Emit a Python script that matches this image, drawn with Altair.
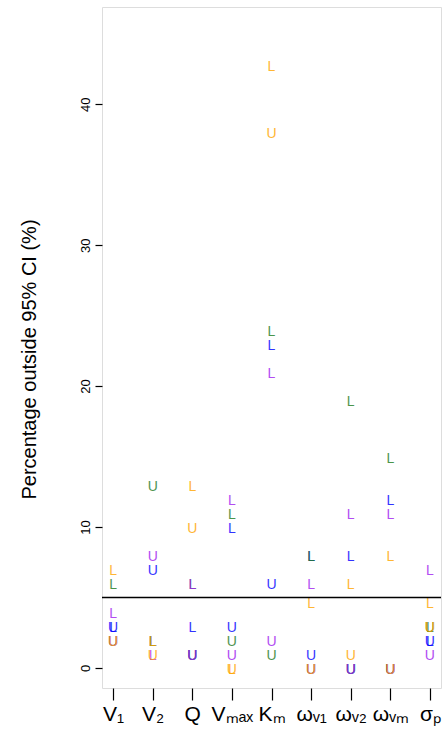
import altair as alt
import pandas as pd

# parameters (x axis) and their tick labels
params = ["V1", "V2", "Q", "Vmax", "Km", "wV1", "wV2", "wVm", "sp"]
tick_labels = ["V₁", "V₂", "Q", "Vₘₐₓ", "Kₘ", "ωᵥ₁", "ωᵥ₂", "ωᵥₘ", "σₚ"]

# percentage outside 95% CI: L = below lower bound, U = above upper bound
series_names = ["blue", "green", "purple", "orange"]   # drawing order
series_colors = ["#0000FF", "#1E7B1E", "#A020F0", "#FFA500"]

blue_L = [3, 2, 3, 10, 23, 8, 8, 12, 2]
blue_U = [3, 7, 1, 3, 6, 1, 0, 0, 2]
green_L = [6, 2, 6, 11, 24, 8, 19, 15, 3]
green_U = [2, 13, 1, 2, 1, 0, 0, 0, 3]
purple_L = [4, 1, 6, 12, 21, 6, 11, 11, 7]
purple_U = [2, 8, 1, 1, 2, 0, 0, 0, 1]
orange_L = [7, 2, 13, 0, 42.8, 4.7, 6, 8, 4.7]
orange_U = [2, 1, 10, 0, 38, 0, 1, 0, 3]

reference_level = [5]

values = {
    "blue": (blue_L, blue_U),
    "green": (green_L, green_U),
    "purple": (purple_L, purple_U),
    "orange": (orange_L, orange_U),
}

rows = []
k = 0
for s in series_names:
    lo, up = values[s]
    for letter, arr in (("L", lo), ("U", up)):
        for lab, v in zip(tick_labels, arr):
            rows.append({"param": lab, "value": v, "series": s, "letter": letter, "ord": k})
            k += 1
df = pd.DataFrame(rows)

W, H = 339, 681

x_enc = alt.X(
    "param:O",
    sort=tick_labels,
    scale=alt.Scale(type="point", padding=0.28),
    axis=alt.Axis(
        title=None, labelAngle=0, labelFontSize=21, labelFont="Liberation Sans",
        labelColor="black", tickSize=12, tickColor="black", tickWidth=1.2,
        domain=False, labelPadding=3, grid=False,
    ),
)
y_scale = alt.Scale(domain=[-1.42, 46.9], nice=False, zero=False)

letters = alt.Chart(df).mark_text(
    fontSize=14, font="Liberation Sans", opacity=0.8, dy=2
).encode(
    x=x_enc,
    y=alt.Y(
        "value:Q", scale=y_scale,
        axis=alt.Axis(
            title="Percentage outside 95% CI (%)", titleFontSize=20,
            titleFont="Liberation Sans", titleFontWeight="normal", titleColor="black",
            titlePadding=40, titleY=352,
            values=[0, 10, 20, 30, 40], labelAngle=-90, labelAlign="center",
            labelBaseline="bottom", labelFontSize=13, labelFont="Liberation Sans",
            labelColor="black", labelPadding=3, tickSize=7, tickColor="black",
            tickWidth=1.2, domain=False, grid=False,
        ),
    ),
    text="letter:N",
    color=alt.Color("series:N", scale=alt.Scale(domain=series_names, range=series_colors), legend=None),
    order=alt.Order("ord:Q"),
)

rule = alt.Chart(pd.DataFrame({"y": reference_level})).mark_rule(
    color="black", strokeWidth=1.5
).encode(y=alt.Y("y:Q", scale=y_scale))

chart = alt.layer(letters, rule).properties(
    width=W, height=H,
    autosize=alt.AutoSizeParams(type="none"),
    padding={"left": 102, "top": 7, "right": 2, "bottom": 50},
).configure_view(stroke="#111111", strokeWidth=2).configure(background="white")

chart.save("out.html", embed_options={"renderer": "svg", "actions": False})
